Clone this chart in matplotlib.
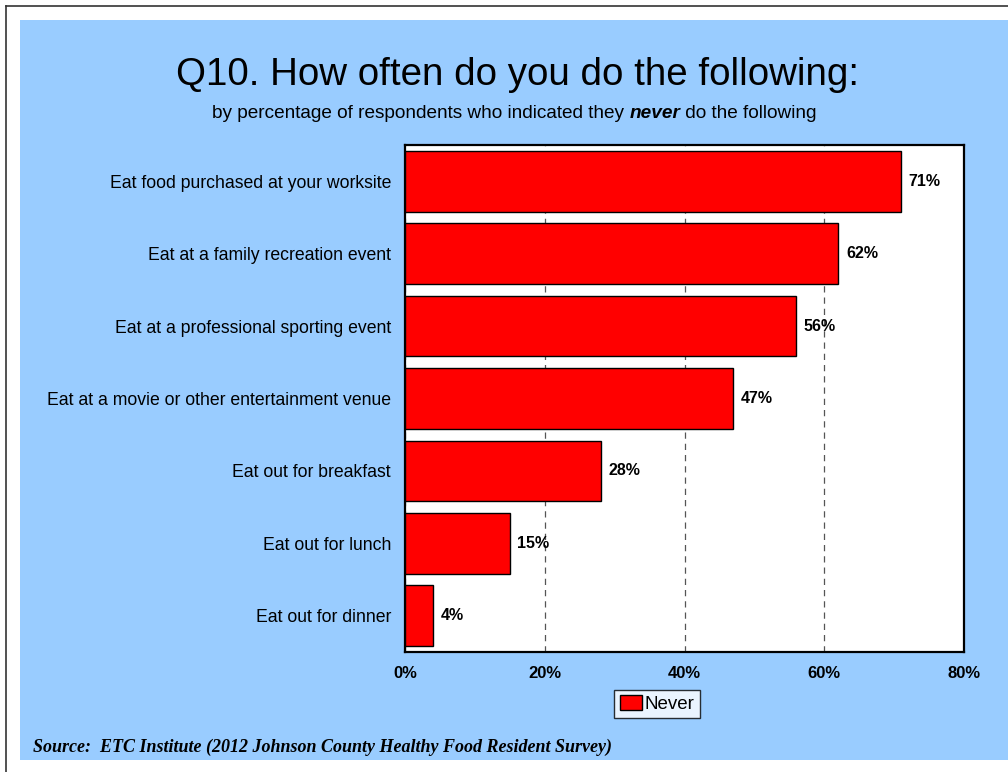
import matplotlib.pyplot as plt
from matplotlib.patches import Rectangle
from matplotlib.lines import Line2D
from matplotlib.offsetbox import TextArea, HPacker, AnchoredOffsetbox

# survey answers, top to bottom
activities = ["Eat food purchased at your worksite",
              "Eat at a family recreation event",
              "Eat at a professional sporting event",
              "Eat at a movie or other entertainment venue",
              "Eat out for breakfast",
              "Eat out for lunch",
              "Eat out for dinner"]
never_pct = [71, 62, 56, 47, 28, 15, 4]
x_ticks = [0, 20, 40, 60, 80]
x_tick_labels = ["0%", "20%", "40%", "60%", "80%"]

BLUE = "#99CCFF"
RED = "#FF0000"
SANS = "Liberation Sans"

fig = plt.figure(figsize=(10.08, 7.72), dpi=100)
fig.patch.set_facecolor("white")

W, H = 1008.0, 772.0

# blue panel behind everything
fig.patches.append(Rectangle((20 / W, 1 - 760 / H), 988 / W, 740 / H,
                             transform=fig.transFigure, facecolor=BLUE,
                             edgecolor="none", zorder=-5))
# thin page border on the left and top
fig.lines.append(Line2D([5.5 / W, 5.5 / W], [0, 1 - 5.5 / H],
                        transform=fig.transFigure, color="#333333", lw=1.2,
                        zorder=-4))
fig.lines.append(Line2D([5.5 / W, 1], [1 - 5.5 / H, 1 - 5.5 / H],
                        transform=fig.transFigure, color="#333333", lw=1.2,
                        zorder=-4))

ax = fig.add_axes([405 / W, 1 - 652 / H, 559 / W, 507 / H])
ax.set_zorder(2)
ax.set_facecolor("white")

pos = list(range(len(activities)))
ax.barh(pos, never_pct, height=0.84, color=RED, edgecolor="black",
        linewidth=1, zorder=3)

for y, v in zip(pos, never_pct):
    ax.text(v + 1.1, y, f"{v}%", va="center", ha="left",
            fontsize=11.5, fontweight="bold", family=SANS, zorder=4)

ax.set_xlim(0, 80)
ax.set_ylim(len(activities) - 0.5, -0.5)
ax.set_xticks(x_ticks)
ax.set_xticklabels(x_tick_labels, fontsize=12, fontweight="bold",
                   family=SANS)
ax.set_yticks(pos)
ax.set_yticklabels(activities, fontsize=12.7, family=SANS)
ax.tick_params(axis="both", length=0)
ax.tick_params(axis="y", pad=10)
ax.tick_params(axis="x", pad=10)

ax.xaxis.grid(True, linestyle=(0, (5, 4)), color="#555555", linewidth=0.9,
              zorder=1)
ax.set_axisbelow(True)
for s in ax.spines.values():
    s.set_linewidth(1.6)
    s.set_color("black")

# title
fig.text(518 / W, 1 - 85 / H, "Q10. How often do you do the following:",
         ha="center", va="baseline", fontsize=27.7, family=SANS)

# subtitle with the bold italic "never"
sub_size = 13.65
sub_parts = [
    TextArea("by percentage of respondents who indicated they ",
             textprops=dict(fontsize=sub_size, family=SANS)),
    TextArea("never", textprops=dict(fontsize=sub_size, family=SANS,
                                     fontweight="bold", style="italic")),
    TextArea(" do the following", textprops=dict(fontsize=sub_size,
                                                 family=SANS)),
]
sub_box = HPacker(children=sub_parts, align="baseline", pad=0, sep=0)
sub_anchor = AnchoredOffsetbox(loc="center", child=sub_box, pad=0,
                               frameon=False,
                               bbox_to_anchor=(514.5 / W, 1 - 113 / H),
                               bbox_transform=fig.transFigure,
                               borderpad=0)
fig.add_artist(sub_anchor)

# legend
leg = fig.legend([Rectangle((0, 0), 1, 1, facecolor=RED, edgecolor="black")],
                 ["Never"], loc="center left",
                 bbox_to_anchor=(614 / W, 1 - 704 / H),
                 frameon=True, fancybox=False, edgecolor="black",
                 prop={"family": SANS, "size": 13.5},
                 handlelength=1.2, handleheight=0.8, handletextpad=0.15,
                 borderpad=0.3, borderaxespad=0)
leg.get_frame().set_linewidth(1.0)

# source note
fig.text(33 / W, 1 - 752 / H,
         "Source:  ETC Institute (2012 Johnson County Healthy Food Resident Survey)",
         ha="left", va="baseline", fontsize=13, family="Liberation Serif",
         fontweight="bold", style="italic")

fig.savefig("out.png", dpi=100, facecolor=fig.get_facecolor())
